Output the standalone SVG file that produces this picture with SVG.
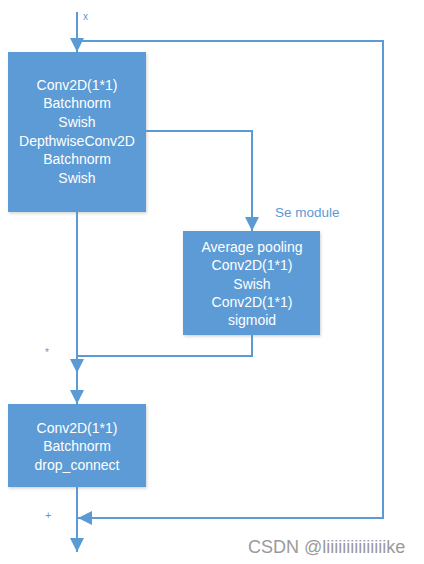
<svg xmlns="http://www.w3.org/2000/svg" width="424" height="564" viewBox="0 0 424 564">
<style>
  .box { fill: #5B9BD5; filter: url(#sh); }
  .t { font-family: "Liberation Sans", Arial, sans-serif; font-size: 14px; fill: #ffffff; text-anchor: middle; }
  .lbl { font-family: "Liberation Sans", Arial, sans-serif; fill: #5B9BD5; }
  .ln { fill: none; stroke: #5B9BD5; stroke-width: 2; }
  .wm { font-family: "Liberation Sans", Arial, sans-serif; font-size: 18px; fill: #9a9a9a; }
</style>
<defs>
  <filter id="sh" x="-10%" y="-10%" width="125%" height="125%">
    <feDropShadow dx="1" dy="1.5" stdDeviation="1.5" flood-color="#7f7f7f" flood-opacity="0.35"/>
  </filter>
  <marker id="ah" markerUnits="userSpaceOnUse" markerWidth="14" markerHeight="14" refX="14" refY="7" orient="auto">
    <path d="M0,0 L14,7 L0,14 Z" fill="#5B9BD5"/>
  </marker>
</defs>
<rect width="424" height="564" fill="#ffffff"/>

<g id="connectors">
  <line class="ln" x1="77" y1="12" x2="77" y2="52" marker-end="url(#ah)"/>
  <polyline class="ln" points="77,41 383,41 383,518 78,518" marker-end="url(#ah)"/>
  <polyline class="ln" points="146,131 252,131 252,231" marker-end="url(#ah)"/>
  <polyline class="ln" points="252,335 252,356 77,356"/>
  <line class="ln" x1="77" y1="212" x2="77" y2="373" marker-end="url(#ah)"/>
  <line class="ln" x1="77" y1="373" x2="77" y2="404" marker-end="url(#ah)"/>
  <line class="ln" x1="77" y1="487" x2="77" y2="552" marker-end="url(#ah)"/>
</g>

<g id="labels">
  <text class="lbl" x="83" y="20" font-size="10">x</text>
  <text class="lbl" x="275" y="217" font-size="13.5">Se module</text>
  <text class="lbl" x="45" y="356" font-size="10">*</text>
  <text class="lbl" x="45" y="519" font-size="11">+</text>
</g>

<g id="node-block1">
  <rect class="box" x="8" y="52" width="138" height="160"/>
  <text class="t" x="77" y="89.5">Conv2D(1*1)</text>
  <text class="t" x="77" y="108.2">Batchnorm</text>
  <text class="t" x="77" y="126.9">Swish</text>
  <text class="t" x="77" y="145.6">DepthwiseConv2D</text>
  <text class="t" x="77" y="164.3">Batchnorm</text>
  <text class="t" x="77" y="183">Swish</text>
</g>

<g id="node-se">
  <rect class="box" x="183" y="231" width="137" height="104"/>
  <text class="t" x="252" y="252">Average pooling</text>
  <text class="t" x="252" y="270.3">Conv2D(1*1)</text>
  <text class="t" x="252" y="288.6">Swish</text>
  <text class="t" x="252" y="307">Conv2D(1*1)</text>
  <text class="t" x="252" y="325">sigmoid</text>
</g>

<g id="node-block3">
  <rect class="box" x="8" y="404" width="138" height="83"/>
  <text class="t" x="77" y="432.5">Conv2D(1*1)</text>
  <text class="t" x="77" y="451.3">Batchnorm</text>
  <text class="t" x="77" y="470">drop_connect</text>
</g>

<text class="wm" x="248" y="553">CSDN @liiiiiiiiiiiiiiike</text>
</svg>
